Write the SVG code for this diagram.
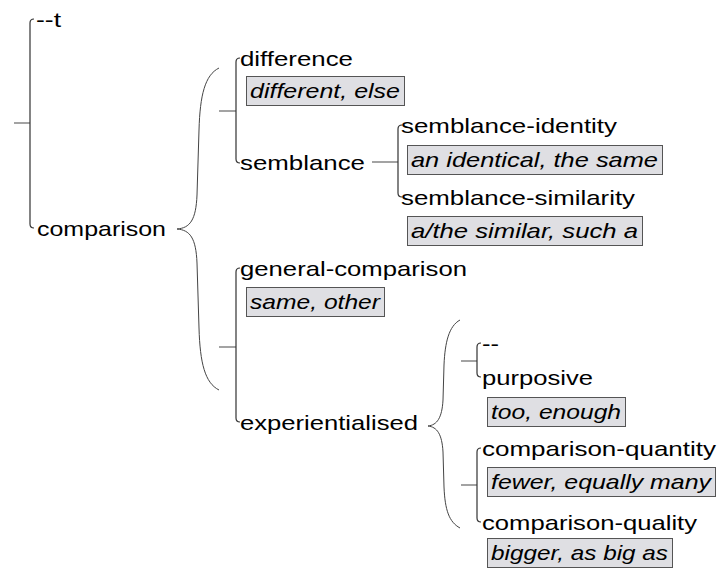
<svg xmlns="http://www.w3.org/2000/svg" width="720" height="574" viewBox="0 0 720 574">
  <style>
    .lbl { font-family: "Liberation Sans", Arial, sans-serif; font-size: 21px; fill: #000; }
    .ex { font-family: "Liberation Sans", Arial, sans-serif; font-size: 21px; font-style: italic; fill: #000; }
    .box { fill: #dfdfe3; stroke: #555; stroke-width: 1; }
    .bar { fill: none; stroke: #333; stroke-width: 1.2; }
    .stub { fill: none; stroke: #666; stroke-width: 1.2; }
    .brace { fill: none; stroke: #444; stroke-width: 1; }
  </style>
  <rect width="720" height="574" fill="#fff"/>

  <!-- system brackets, entry stubs and simultaneity braces -->
  <g id="connectors">
    <line class="stub" x1="14" y1="123" x2="30" y2="123"/>
    <path class="bar" d="M34,19 Q30,19 30,23 L30,224 Q30,228 34,228"/>

    <path class="brace" d="M219,68 C205,75 200,95 199,130 L197,195 C196,220 190,228 177,229 C190,230 196,238 197,263 L199,328 C200,363 205,383 219,390"/>

    <line class="stub" x1="219" y1="111" x2="236" y2="111"/>
    <path class="bar" d="M240,58 Q236,58 236,62 L236,159 Q236,163 240,163"/>

    <line class="stub" x1="372" y1="162" x2="398" y2="162"/>
    <path class="bar" d="M402,125 Q398,125 398,129 L398,193 Q398,197 402,197"/>

    <line class="stub" x1="219" y1="347" x2="236" y2="347"/>
    <path class="bar" d="M240,268 Q236,268 236,272 L236,418 Q236,422 240,422"/>

    <path class="brace" d="M460,320 C449,326 445,342 444,365 L443,400 C442,418 437,425 428,426 C437,427 442,434 443,452 L444,487 C445,510 449,522 460,528"/>

    <line class="stub" x1="461" y1="361" x2="477" y2="361"/>
    <path class="bar" d="M481,343 Q477,343 477,347 L477,373 Q477,377 481,377"/>

    <line class="stub" x1="461" y1="485" x2="477" y2="485"/>
    <path class="bar" d="M481,448 Q477,448 477,452 L477,518 Q477,522 481,522"/>
  </g>

  <g id="node-t">
    <text class="lbl" x="36" y="27" textLength="25" lengthAdjust="spacingAndGlyphs">--t</text>
  </g>

  <g id="node-comparison">
    <text class="lbl" x="37" y="236" textLength="129" lengthAdjust="spacingAndGlyphs">comparison</text>
  </g>

  <g id="node-difference">
    <text class="lbl" x="240" y="66" textLength="113" lengthAdjust="spacingAndGlyphs">difference</text>
    <rect class="box" x="246.5" y="76.5" width="158" height="29"/>
    <text class="ex" x="250" y="98" textLength="150" lengthAdjust="spacingAndGlyphs">different, else</text>
  </g>

  <g id="node-semblance">
    <text class="lbl" x="240" y="170" textLength="125" lengthAdjust="spacingAndGlyphs">semblance</text>
  </g>

  <g id="node-semblance-identity">
    <text class="lbl" x="401" y="133" textLength="216" lengthAdjust="spacingAndGlyphs">semblance-identity</text>
    <rect class="box" x="407.5" y="145.5" width="255" height="29"/>
    <text class="ex" x="411" y="167" textLength="247" lengthAdjust="spacingAndGlyphs">an identical, the same</text>
  </g>

  <g id="node-semblance-similarity">
    <text class="lbl" x="401" y="205" textLength="234" lengthAdjust="spacingAndGlyphs">semblance-similarity</text>
    <rect class="box" x="407.5" y="216.5" width="235" height="29"/>
    <text class="ex" x="411" y="238" textLength="227" lengthAdjust="spacingAndGlyphs">a/the similar, such a</text>
  </g>

  <g id="node-general-comparison">
    <text class="lbl" x="240" y="276" textLength="227" lengthAdjust="spacingAndGlyphs">general-comparison</text>
    <rect class="box" x="246.5" y="287.5" width="138" height="29"/>
    <text class="ex" x="250" y="309" textLength="130" lengthAdjust="spacingAndGlyphs">same, other</text>
  </g>

  <g id="node-experientialised">
    <text class="lbl" x="240" y="430" textLength="178" lengthAdjust="spacingAndGlyphs">experientialised</text>
  </g>

  <g id="node-dash">
    <text class="lbl" x="482" y="351" textLength="17" lengthAdjust="spacingAndGlyphs">--</text>
  </g>

  <g id="node-purposive">
    <text class="lbl" x="482" y="385" textLength="111" lengthAdjust="spacingAndGlyphs">purposive</text>
    <rect class="box" x="487.5" y="397.5" width="138" height="29"/>
    <text class="ex" x="491" y="419" textLength="130" lengthAdjust="spacingAndGlyphs">too, enough</text>
  </g>

  <g id="node-comparison-quantity">
    <text class="lbl" x="482" y="456" textLength="234" lengthAdjust="spacingAndGlyphs">comparison-quantity</text>
    <rect class="box" x="487.5" y="467.5" width="228" height="29"/>
    <text class="ex" x="491" y="489" textLength="220" lengthAdjust="spacingAndGlyphs">fewer, equally many</text>
  </g>

  <g id="node-comparison-quality">
    <text class="lbl" x="482" y="530" textLength="215" lengthAdjust="spacingAndGlyphs">comparison-quality</text>
    <rect class="box" x="487.5" y="538.5" width="185" height="29"/>
    <text class="ex" x="491" y="560" textLength="177" lengthAdjust="spacingAndGlyphs">bigger, as big as</text>
  </g>
</svg>
